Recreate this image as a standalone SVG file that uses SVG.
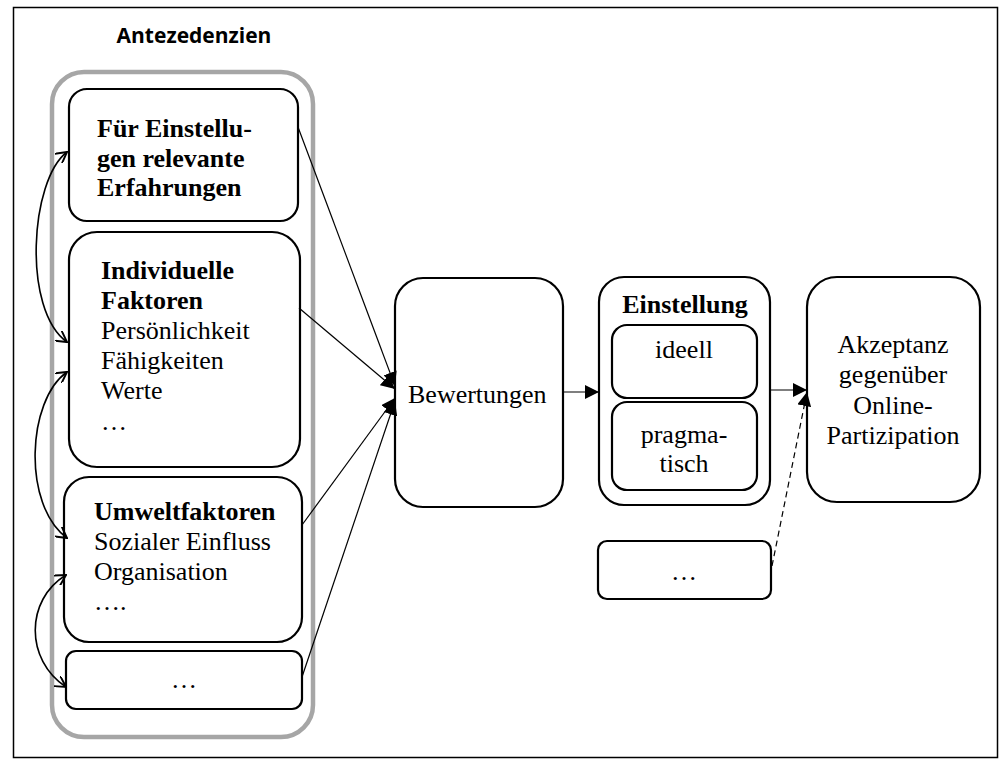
<svg xmlns="http://www.w3.org/2000/svg" width="999" height="760" viewBox="0 0 999 760">
  <defs>
    <style>
      .frame { fill: #ffffff; stroke: #000000; stroke-width: 1.5; }
      .group { fill: none; stroke: #a6a6a6; stroke-width: 4.5; }
      .box { fill: #ffffff; stroke: #000000; stroke-width: 2.2; }
      .t { font-family: "Liberation Serif", "Times New Roman", serif; font-size: 26px; fill: #000000; }
      .b { font-weight: bold; }
      .c { text-anchor: middle; }
      .title { font-family: "Open Sans", "Liberation Sans", sans-serif; font-weight: bold; font-size: 21px; fill: #000000; }
      .conn { fill: none; stroke: #000000; stroke-width: 1.2; }
      .curve { fill: none; stroke: #000000; stroke-width: 1.6; }
      .dash { stroke-dasharray: 6 4; }
    </style>
    <marker id="solid" viewBox="0 0 10 10" refX="10" refY="5" markerWidth="10" markerHeight="10" markerUnits="userSpaceOnUse" orient="auto">
      <path d="M0,0 L10,5 L0,10 z" fill="#000000"/>
    </marker>
    <marker id="bigsolid" viewBox="0 0 10 10" refX="10" refY="5" markerWidth="14" markerHeight="14" markerUnits="userSpaceOnUse" orient="auto">
      <path d="M0,0 L10,5 L0,10 z" fill="#000000"/>
    </marker>
    <marker id="open" viewBox="0 0 10 10" refX="9" refY="5" markerWidth="12" markerHeight="12" markerUnits="userSpaceOnUse" orient="auto">
      <path d="M0,0 L9,5 L0,10" fill="none" stroke="#000000" stroke-width="1.6"/>
    </marker>
    <marker id="openStart" viewBox="0 0 10 10" refX="9" refY="5" markerWidth="12" markerHeight="12" markerUnits="userSpaceOnUse" orient="auto-start-reverse">
      <path d="M0,0 L9,5 L0,10" fill="none" stroke="#000000" stroke-width="1.6"/>
    </marker>
  </defs>

  <!-- outer frame -->
  <rect class="frame" x="13.5" y="7.5" width="984" height="750"/>

  <!-- antecedents container -->
  <g id="antezedenzien">
    <text class="title" x="194" y="43" text-anchor="middle">Antezedenzien</text>
    <rect class="group" x="52" y="72" width="261" height="665" rx="32"/>
  </g>

  <g id="erfahrungen">
    <rect class="box" x="69" y="89" width="229" height="132" rx="18"/>
    <text class="t b" x="97" y="137">Für Einstellu-</text>
    <text class="t b" x="97" y="167">gen relevante</text>
    <text class="t b" x="97" y="196">Erfahrungen</text>
  </g>

  <g id="individuelle-faktoren">
    <rect class="box" x="69" y="232" width="231" height="235" rx="28"/>
    <text class="t b" x="101" y="279">Individuelle</text>
    <text class="t b" x="101" y="309">Faktoren</text>
    <text class="t" x="101" y="339">Persönlichkeit</text>
    <text class="t" x="101" y="369">Fähigkeiten</text>
    <text class="t" x="101" y="399">Werte</text>
    <text class="t" x="101" y="430">…</text>
  </g>

  <g id="umweltfaktoren">
    <rect class="box" x="64" y="477" width="238" height="165" rx="25"/>
    <text class="t b" x="94" y="520">Umweltfaktoren</text>
    <text class="t" x="94" y="550">Sozialer Einfluss</text>
    <text class="t" x="94" y="580">Organisation</text>
    <text class="t" x="94" y="610">….</text>
  </g>

  <g id="weitere-antezedenzien">
    <rect class="box" x="66" y="651" width="236" height="58" rx="10"/>
    <text class="t c" x="184" y="688">…</text>
  </g>

  <g id="bewertungen">
    <rect class="box" x="395" y="278" width="168" height="229" rx="28"/>
    <text class="t" x="408" y="403">Bewertungen</text>
  </g>

  <g id="einstellung">
    <rect class="box" x="599" y="277" width="171" height="228" rx="25"/>
    <text class="t b c" x="685" y="313">Einstellung</text>
  </g>

  <g id="ideell">
    <rect class="box" x="612" y="325" width="145" height="73" rx="15"/>
    <text class="t c" x="684" y="358">ideell</text>
  </g>

  <g id="pragmatisch">
    <rect class="box" x="612" y="402" width="145" height="88" rx="15"/>
    <text class="t c" x="684" y="443">pragma-</text>
    <text class="t c" x="684" y="472">tisch</text>
  </g>

  <g id="weitere-faktoren">
    <rect class="box" x="598" y="541" width="173" height="58" rx="9"/>
    <text class="t c" x="684" y="580">…</text>
  </g>

  <g id="akzeptanz">
    <rect class="box" x="807" y="277" width="173" height="225" rx="30"/>
    <text class="t c" x="893" y="353">Akzeptanz</text>
    <text class="t c" x="893" y="383">gegenüber</text>
    <text class="t c" x="893" y="414">Online-</text>
    <text class="t c" x="893" y="444">Partizipation</text>
  </g>

  <!-- connectors -->
  <g id="connectors">
    <!-- antecedents to evaluations -->
    <line class="conn" x1="298" y1="127" x2="395" y2="386" marker-end="url(#bigsolid)"/>
    <line class="conn" x1="299" y1="308" x2="395" y2="389" marker-end="url(#bigsolid)"/>
    <line class="conn" x1="302" y1="525" x2="395" y2="398" marker-end="url(#bigsolid)"/>
    <line class="conn" x1="302" y1="677" x2="395" y2="401" marker-end="url(#bigsolid)"/>

    <!-- main chain -->
    <line class="conn" x1="563" y1="392" x2="599" y2="392" marker-end="url(#bigsolid)"/>
    <line class="conn" x1="770" y1="390" x2="807" y2="390" stroke="#555555" marker-end="url(#bigsolid)"/>
    <line class="conn dash" x1="772" y1="566" x2="807" y2="392" marker-end="url(#bigsolid)"/>

    <!-- mutual influence among antecedents -->
    <path class="curve" d="M67,152 C30,180 22,310 67,342" marker-start="url(#openStart)" marker-end="url(#open)"/>
    <path class="curve" d="M67,372 C27,400 22,505 67,538" marker-start="url(#openStart)" marker-end="url(#open)"/>
    <path class="curve" d="M66,575 C25,600 25,660 66,687" marker-start="url(#openStart)" marker-end="url(#open)"/>
  </g>
</svg>
